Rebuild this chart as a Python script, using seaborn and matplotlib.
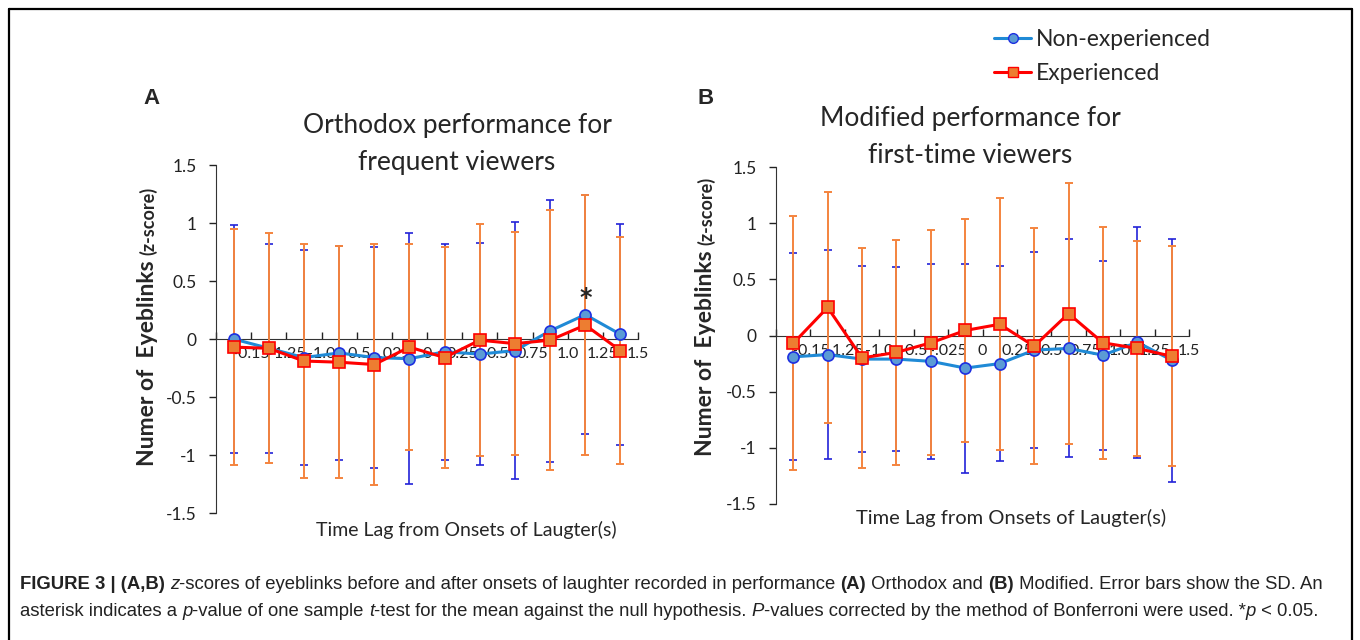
import numpy as np
import matplotlib
matplotlib.use("Agg")
import matplotlib.pyplot as plt
from matplotlib.lines import Line2D
import seaborn as sns

# categories on the time-lag axis (labels sit on the right boundary of each bin)
lag_labels = ['-0.15', '-1.25', '-1.0', '-0.5', '-.025', '0',
              '0.25', '0.5', '0.75', '1.0', '1.25', '1.5']

# panel A: orthodox performance
orth_non_mean = [0.0, -0.08, -0.16, -0.12, -0.16, -0.17, -0.11, -0.13, -0.10, 0.07, 0.21, 0.04]
orth_non_sd = [0.98, 0.90, 0.93, 0.92, 0.95, 1.08, 0.93, 0.96, 1.11, 1.13, 1.03, 0.95]
orth_exp_mean = [-0.07, -0.08, -0.19, -0.20, -0.22, -0.07, -0.16, -0.01, -0.04, -0.01, 0.12, -0.10]
orth_exp_sd = [1.02, 0.99, 1.01, 1.00, 1.04, 0.89, 0.95, 1.00, 0.96, 1.12, 1.12, 0.98]

# panel B: modified performance
mod_non_mean = [-0.19, -0.17, -0.21, -0.21, -0.23, -0.29, -0.25, -0.13, -0.115, -0.175, -0.06, -0.22]
mod_non_sd = [0.92, 0.93, 0.83, 0.82, 0.87, 0.93, 0.87, 0.87, 0.97, 0.84, 1.03, 1.08]
mod_exp_mean = [-0.07, 0.25, -0.20, -0.15, -0.065, 0.045, 0.10, -0.095, 0.195, -0.065, -0.115, -0.185]
mod_exp_sd = [1.13, 1.03, 0.98, 1.00, 1.00, 0.99, 1.12, 1.05, 1.16, 1.03, 0.96, 0.98]

sig_index = 10  # asterisk in panel A

sns.set_style("white")
plt.rcParams['font.family'] = ['Lato', 'DejaVu Sans']

BLUE_LINE = '#1f8ad6'
BLUE_FACE = '#5b9bd5'
BLUE_EDGE = '#1d2fe0'
BLUE_ERR = '#2323d8'
RED_LINE = '#ff0000'
ORANGE_FACE = '#ed7d31'
ORANGE_ERR = '#f4843e'

fig = plt.figure(figsize=(13.6, 6.4), dpi=100)


def draw_panel(ax, non_mean, non_sd, exp_mean, exp_sd):
    x = np.arange(len(lag_labels))
    ax.errorbar(x, non_mean, yerr=non_sd, fmt='none', ecolor=BLUE_ERR,
                elinewidth=1.2, capsize=3, capthick=1.2, zorder=2)
    ax.errorbar(x, exp_mean, yerr=exp_sd, fmt='none', ecolor=ORANGE_ERR,
                elinewidth=1.4, capsize=3, capthick=1.4, zorder=3)
    sns.lineplot(x=x, y=non_mean, ax=ax, color=BLUE_LINE, linewidth=2.2,
                 marker='o', markersize=8, markerfacecolor=BLUE_FACE,
                 markeredgecolor=BLUE_EDGE, markeredgewidth=1.2, zorder=4,
                 label='Non-experienced', legend=False)
    sns.lineplot(x=x, y=exp_mean, ax=ax, color=RED_LINE, linewidth=2.2,
                 marker='s', markersize=8, markerfacecolor=ORANGE_FACE,
                 markeredgecolor=RED_LINE, markeredgewidth=1.2, zorder=5,
                 label='Experienced', legend=False)

    ax.set_xlim(-0.5, len(lag_labels) - 0.5)
    ax.set_ylim(-1.5, 1.5)
    ax.set_yticks([-1.5, -1, -0.5, 0, 0.5, 1, 1.5])
    ax.set_yticklabels(['-1.5', '-1', '-0.5', '0', '0.5', '1', '1.5'])
    ax.tick_params(axis='y', direction='out', length=5, width=1, pad=9,
                   labelsize=12.5, colors='#222222', left=True)

    # category axis crossing at zero, tick marks between bins
    ax.spines['bottom'].set_position(('data', 0))
    ax.spines['bottom'].set_color('#333333')
    ax.spines['left'].set_color('#333333')
    ax.spines['top'].set_visible(False)
    ax.spines['right'].set_visible(False)
    ax.set_xticks(np.arange(len(lag_labels) + 1) - 0.5)
    ax.set_xticklabels([''] + lag_labels)
    ax.tick_params(axis='x', direction='in', length=5, width=1, pad=6,
                   labelsize=11.5, colors='#222222', bottom=True)
    ax.set_xlabel('')
    ax.set_ylabel('')
    ax.grid(False)
    ax.set_facecolor('none')


axA = fig.add_axes([216 / 1360, 127 / 640, 422 / 1360, 348 / 640])
draw_panel(axA, orth_non_mean, orth_non_sd, orth_exp_mean, orth_exp_sd)
axA.annotate('*', (sig_index, orth_non_mean[sig_index] + 0.14),
             ha='center', va='center', fontsize=17, fontweight='bold',
             family=['DejaVu Sans'])

axB = fig.add_axes([776 / 1360, 136 / 640, 413 / 1360, 337 / 640])
draw_panel(axB, mod_non_mean, mod_non_sd, mod_exp_mean, mod_exp_sd)

# titles, panel letters, axis labels
fig.text(457 / 1360, 1 - 144 / 640, 'Orthodox performance for\nfrequent viewers',
         ha='center', va='center', fontsize=19, linespacing=1.62)
fig.text(970 / 1360, 1 - 137 / 640, 'Modified performance for\nfirst-time viewers',
         ha='center', va='center', fontsize=19, linespacing=1.6)
fig.text(151 / 1360, 1 - 98 / 640, 'A', ha='center', va='center', fontsize=16,
         fontweight='bold', family=['Liberation Sans'])
fig.text(706 / 1360, 1 - 98 / 640, 'B', ha='center', va='center', fontsize=16,
         fontweight='bold', family=['Liberation Sans'])
fig.text(466 / 1360, 1 - 530 / 640, 'Time Lag from Onsets of Laugter(s)',
         ha='center', va='center', fontsize=14)
fig.text(1011 / 1360, 1 - 518 / 640, 'Time Lag from Onsets of Laugter(s)',
         ha='center', va='center', fontsize=14.5)

renderer = fig.canvas.get_renderer()
inv = fig.transFigure.inverted()


def run_text(x, y, runs, rotation=0, **kw):
    # draws a sequence of styled text pieces one after the other
    for s, size, weight, style in runs:
        t = fig.text(x, y, s, fontsize=size, fontweight=weight, fontstyle=style,
                     ha='left', va='baseline', rotation=rotation,
                     rotation_mode='anchor', **kw)
        bb = t.get_window_extent(renderer)
        if rotation == 0:
            x = inv.transform((bb.x1, bb.y0))[0]
        else:
            y = inv.transform((bb.x0, bb.y1))[1]


ylab = [('Numer of  Eyeblinks ', 16.5, 'bold', 'normal'),
        ('(z-score)', 13, 'bold', 'normal')]
run_text(154 / 1360, 1 - 466 / 640, ylab, rotation=90)
run_text(712 / 1360, 1 - 456 / 640, ylab, rotation=90)

# legend
handles = [Line2D([], [], color=BLUE_LINE, lw=2.2, marker='o', markersize=7,
                  markerfacecolor=BLUE_FACE, markeredgecolor=BLUE_EDGE),
           Line2D([], [], color=RED_LINE, lw=2.2, marker='s', markersize=7,
                  markerfacecolor=ORANGE_FACE, markeredgecolor=RED_LINE)]
fig.legend(handles, ['Non-experienced', 'Experienced'], loc='upper left',
           bbox_to_anchor=(985 / 1360, 1 - 20 / 640), frameon=False,
           fontsize=16.5, handlelength=1.6, handletextpad=0.2, labelspacing=0.55,
           borderaxespad=0)

# caption
cap_font = ['Liberation Sans']
cs = 13.35
cap1 = [('FIGURE 3 | (A,B) ', cs, 'bold', 'normal'),
        ('z', cs, 'normal', 'italic'),
        ('-scores of eyeblinks before and after onsets of laughter recorded in performance ',
         cs, 'normal', 'normal'),
        ('(A)', cs, 'bold', 'normal'),
        (' Orthodox and ', cs, 'normal', 'normal'),
        ('(B)', cs, 'bold', 'normal'),
        (' Modified. Error bars show the SD. An', cs, 'normal', 'normal')]
cap2 = [('asterisk indicates a ', cs, 'normal', 'normal'),
        ('p', cs, 'normal', 'italic'),
        ('-value of one sample ', cs, 'normal', 'normal'),
        ('t', cs, 'normal', 'italic'),
        ('-test for the mean against the null hypothesis. ', cs, 'normal', 'normal'),
        ('P', cs, 'normal', 'italic'),
        ('-values corrected by the method of Bonferroni were used. *', cs, 'normal', 'normal'),
        ('p', cs, 'normal', 'italic'),
        (' < 0.05.', cs, 'normal', 'normal')]
run_text(20 / 1360, 1 - 589 / 640, cap1, family=cap_font, color='#222222')
run_text(20 / 1360, 1 - 616 / 640, cap2, family=cap_font, color='#222222')

# frame around the figure (open at the bottom)
fx0, fx1, fy1 = 8.5 / 1360, 1351.5 / 1360, 1 - 8.5 / 640
for xs, ys in [([fx0, fx0], [0, fy1]), ([fx0, fx1], [fy1, fy1]), ([fx1, fx1], [fy1, 0])]:
    fig.add_artist(Line2D(xs, ys, color='black', lw=1.6, transform=fig.transFigure))

fig.savefig('out.png', dpi=100)
